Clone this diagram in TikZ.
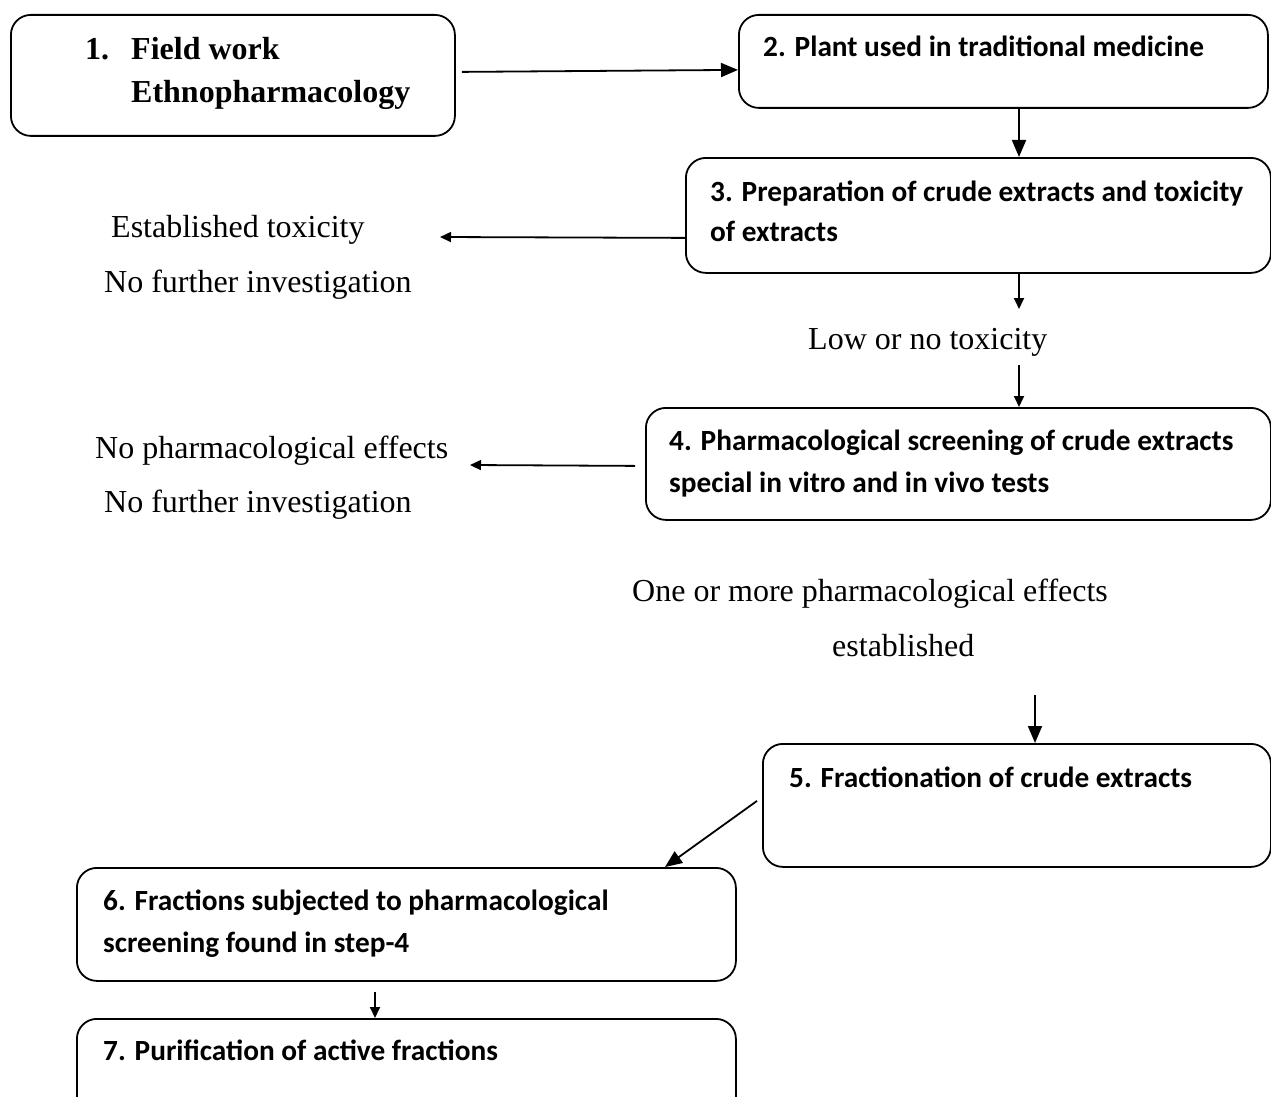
\documentclass[tikz,border=0pt]{standalone}
\usepackage{fontspec}
\setmainfont{Liberation Serif}
\newfontfamily\calibfont{Carlito}
\usetikzlibrary{arrows.meta,calc}
\begin{document}
\begin{tikzpicture}[x=1pt,y=-1pt,
  box/.style={draw,rounded corners=20pt,line width=1.8pt,inner sep=0pt,anchor=north west},
  boxtxt/.style={anchor=base west,inner sep=0pt,font=\calibfont\bfseries\fontsize{29.3}{35}\selectfont},
  plain/.style={anchor=base west,inner sep=0pt,font=\fontsize{32}{38}\selectfont},
  bigarr/.style={line width=1.8pt,-{Triangle[length=17pt,width=14pt]}},
  smallarr/.style={line width=1.8pt,-{Triangle[length=11pt,width=10pt]}}]
\clip (0,0) rectangle (1271,1097);
\fill[white] (0,0) rectangle (1271,1097);
% boxes
\node[box,minimum width=444pt,minimum height=121pt] (b1) at (10,14) {};
\node[box,minimum width=529pt,minimum height=93pt] (b2) at (738,14) {};
\node[box,minimum width=585pt,minimum height=115pt] (b3) at (685,157) {};
\node[box,minimum width=625pt,minimum height=112pt] (b4) at (645,407) {};
\node[box,minimum width=508pt,minimum height=123pt] (b5) at (762,743) {};
\node[box,minimum width=659pt,minimum height=113pt] (b6) at (76,867) {};
\node[box,minimum width=659pt,minimum height=130pt] (b7) at (76,1018) {};
% box texts
\node[plain,font=\bfseries\fontsize{32}{38}\selectfont] (t1n) at (85,60) {1.};
\node[plain,font=\bfseries\fontsize{32}{38}\selectfont] (t1a) at (131,60) {Field work};
\node[plain,font=\bfseries\fontsize{32}{38}\selectfont] (t1b) at (131,103) {Ethnopharmacology};
\node[boxtxt] (t2) at (763,57) {2. Plant used in traditional medicine};
\node[boxtxt] (t3a) at (710,201) {3. Preparation of crude extracts and toxicity};
\node[boxtxt] (t3b) at (710,241) {of extracts};
\node[boxtxt] (t4a) at (669,450) {4. Pharmacological screening of crude extracts};
\node[boxtxt] (t4b) at (669,492) {special in vitro and in vivo tests};
\node[boxtxt] (t5) at (789,787) {5. Fractionation of crude extracts};
\node[boxtxt] (t6a) at (103,910) {6. Fractions subjected to pharmacological};
\node[boxtxt] (t6b) at (103,952) {screening found in step-4};
\node[boxtxt] (t7) at (103,1060) {7. Purification of active fractions};
% plain texts
\node[plain] (est) at (111,237) {Established toxicity};
\node[plain] (nfi1) at (104,292) {No further investigation};
\node[plain] (low) at (808,349) {Low or no toxicity};
\node[plain] (npe) at (95,458) {No pharmacological effects};
\node[plain] (nfi2) at (104,512) {No further investigation};
\node[plain] (one) at (632,601) {One or more pharmacological effects};
\node[plain] (estd) at (832,656) {established};
% coordinates
\coordinate (col) at (1019,0);
\coordinate (col5) at (1035,0);
\coordinate (e3) at (440,237);
\coordinate (e4) at (470,465);
\coordinate (d3) at (1019,309);
\coordinate (s4) at (1019,365);
\coordinate (s5) at (1035,695);
\coordinate (c6) at (665,0);
\coordinate (c7) at (375,0);
% connectors
\draw[bigarr] ($(b1.east)+(6,-3.5)$) -- ($(b2.west)+(0,8.5)$);
\draw[bigarr] (b2.south -| col) -- (b3.north -| col);
\draw[smallarr] ($(b3.west)+(0,22.5)$) -- (e3);
\draw[smallarr] (b3.south -| col) -- (d3);
\draw[smallarr] (s4) -- (b4.north -| col);
\draw[smallarr] ($(b4.west)+(-10,2)$) -- (e4);
\draw[bigarr] (s5) -- (b5.north -| col5);
\draw[bigarr] ($(b5.west)+(-5,-4.5)$) -- (b6.north -| c6);
\draw[smallarr] ($(b6.south -| c7)+(0,10)$) -- (b7.north -| c7);
\end{tikzpicture}
\end{document}
